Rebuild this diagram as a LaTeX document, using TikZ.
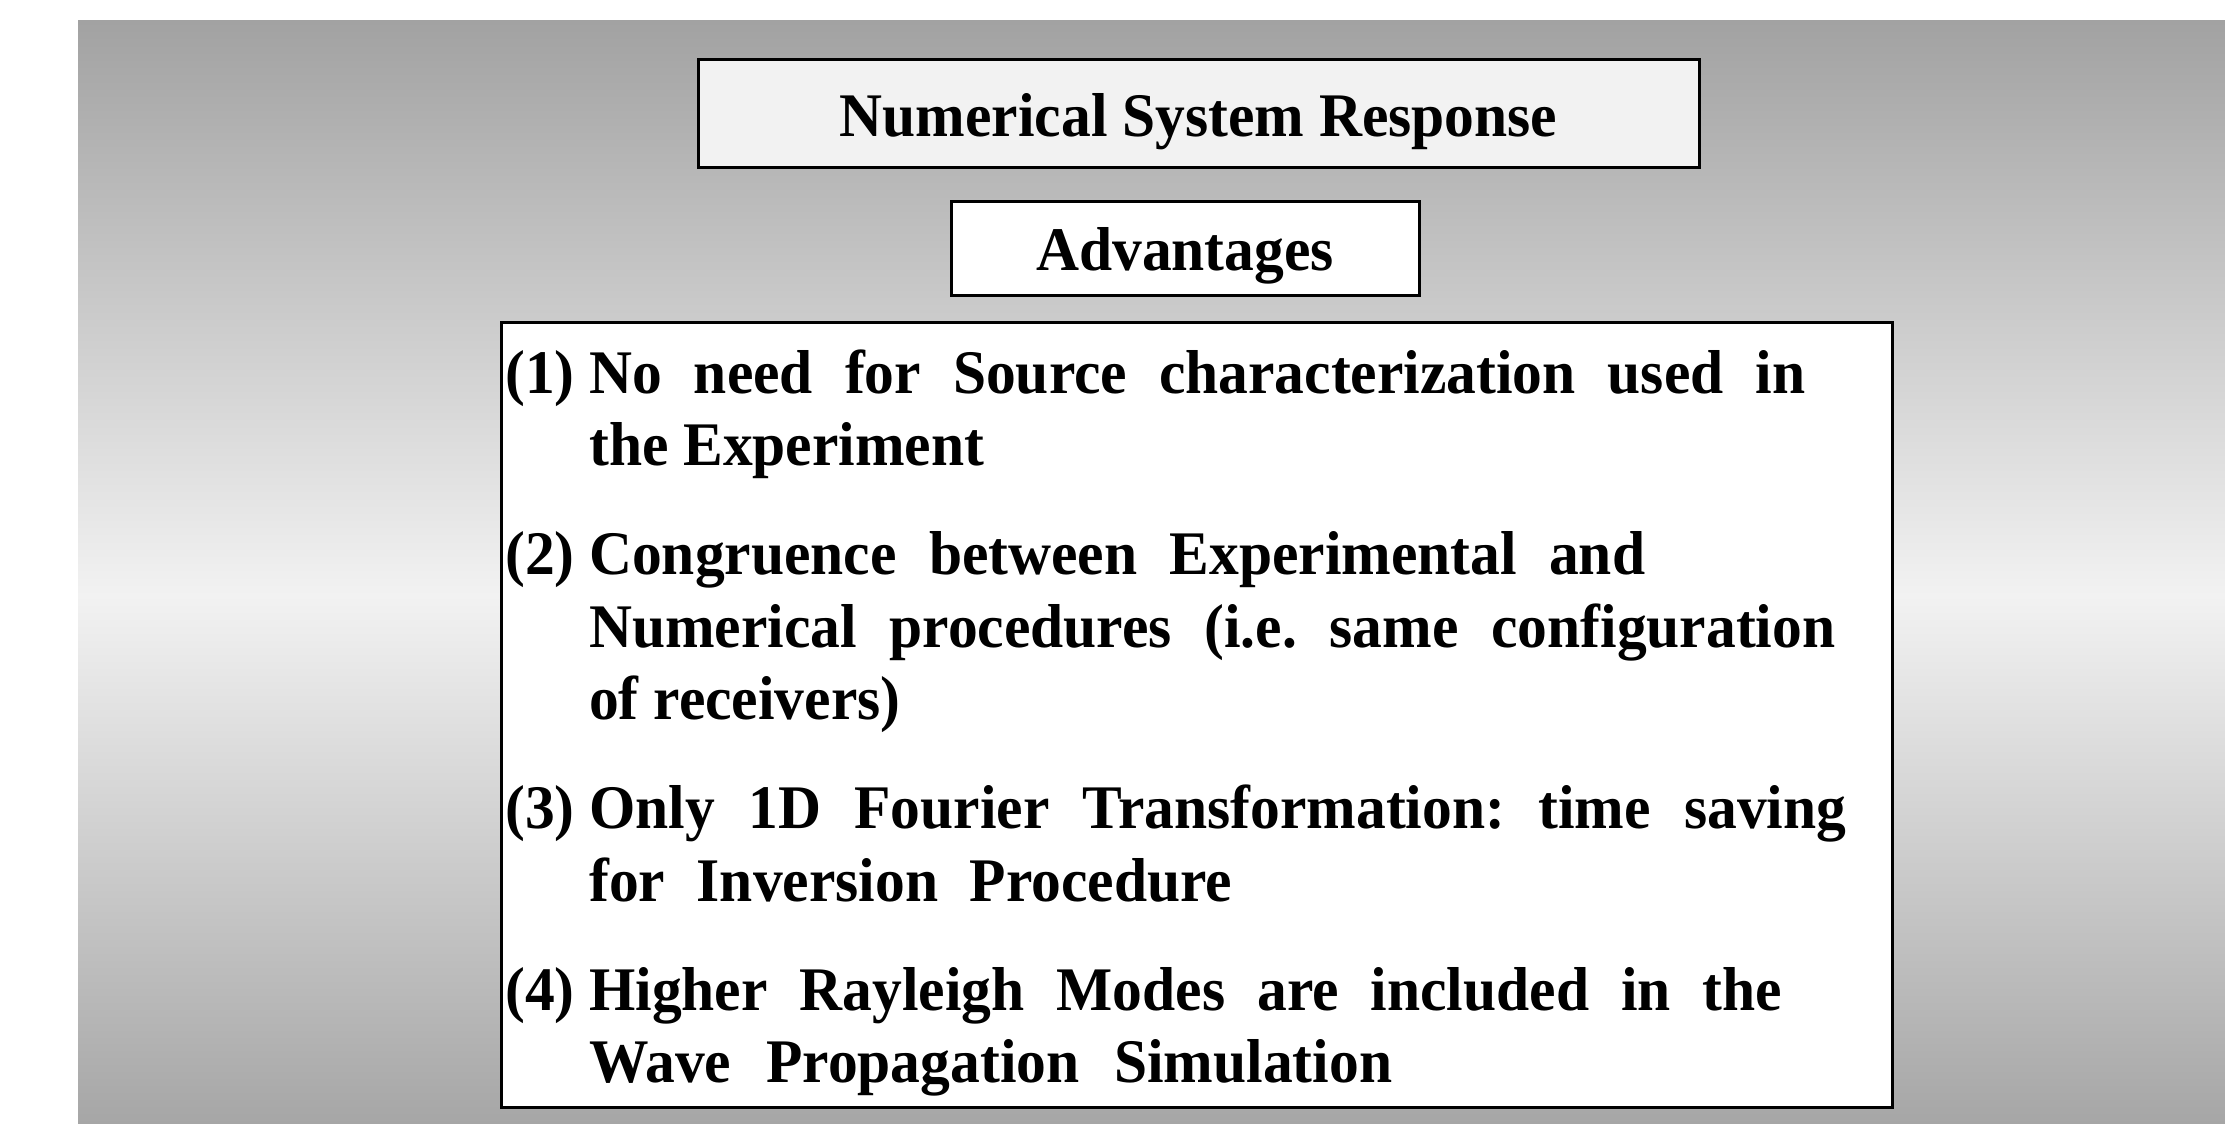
\documentclass[tikz,border=0pt]{standalone}
\usepackage{fontspec}
\setmainfont{Liberation Serif}[FakeStretch=0.96]
\definecolor{bgdark}{HTML}{A2A2A2}
\definecolor{bglight}{HTML}{F2F2F2}
\definecolor{bgbot}{HTML}{A6A6A6}
\definecolor{titlefill}{HTML}{F2F2F2}
\newcommand\advfont{\fontsize{62}{72}\selectfont\bfseries\frenchspacing}
\begin{document}
\begin{tikzpicture}[x=1pt,y=-1pt,
  framebox/.style={draw=black, line width=3pt, inner sep=0pt, font=\advfont},
  txt/.style={anchor=base west, inner sep=0pt, font=\advfont}]
\useasboundingbox (0,0) rectangle (2225,1124);
\fill[white] (0,0) rectangle (2225,1124);
\shade[top color=bgdark, bottom color=bglight] (78,21) rectangle (2225,596);
\shade[top color=bglight, bottom color=bgbot] (78,595) rectangle (2225,1124);

\node[framebox, fill=titlefill, minimum width=1001pt, minimum height=107pt,
      text height=45pt, text depth=0pt] (title) at (1198.5,113.5) {Numerical System Response};
\node[framebox, fill=white, minimum width=468pt, minimum height=94pt,
      text height=44pt, text depth=0pt] (adv) at (1185,248) {Advantages};
\node[framebox, fill=white, minimum width=1391pt, minimum height=785pt] (main) at (1196.5,714.5) {};

\node[txt] (n1) at (505,393) {(1)};
\node[txt] (l1) at (589,393) {\makebox[1216pt][s]{No need for Source characterization used in}};
\node[txt] (l2) at (589,465) {the Experiment};
\node[txt] (n2) at (505,574) {(2)};
\node[txt] (l3) at (589,574) {\makebox[1056pt][s]{Congruence between Experimental and}};
\node[txt] (l4) at (589,647) {\makebox[1246pt][s]{Numerical procedures (i.e. same configuration}};
\node[txt] (l5) at (589,719) {of receivers)};
\node[txt] (n3) at (505,828) {(3)};
\node[txt] (l6) at (589,828) {\makebox[1257pt][s]{Only 1D Fourier Transformation: time saving}};
\node[txt] (l7) at (589,901) {\makebox[643pt][s]{for Inversion Procedure}};
\node[txt] (n4) at (505,1010) {(4)};
\node[txt] (l8) at (589,1010) {\makebox[1193pt][s]{Higher Rayleigh Modes are included in the}};
\node[txt] (l9) at (589,1082) {\makebox[803pt][s]{Wave Propagation Simulation}};
\end{tikzpicture}
\end{document}
